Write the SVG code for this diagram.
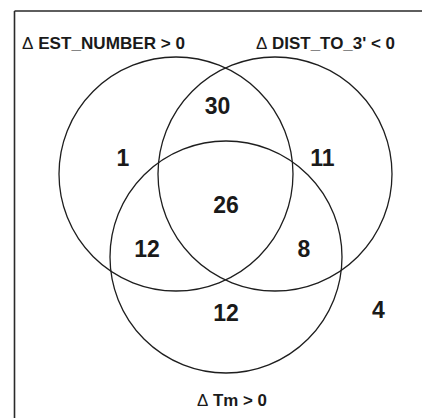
<svg xmlns="http://www.w3.org/2000/svg" width="422" height="418" viewBox="0 0 422 418">
<style>
.frame{stroke:#2a2a2a;stroke-width:1.6;fill:none}
.set{fill:none;stroke:#1e1e1e;stroke-width:1.3}
.lbl{font-family:"Liberation Sans",Arial,sans-serif;font-weight:bold;font-size:17px;fill:#1a1a1a}
.num{font-family:"Liberation Sans",Arial,sans-serif;font-weight:bold;font-size:23px;fill:#1a1a1a;text-anchor:middle}
.d{font-weight:normal}
</style>
<rect width="422" height="418" fill="#ffffff"/>
<g id="frame">
<path class="frame" d="M14.5 11 H422 M14.5 11 V418"/>
</g>
<g id="set-est">
<circle class="set" cx="176" cy="174" r="117"/>
<text class="lbl" x="22" y="49" textLength="163" lengthAdjust="spacingAndGlyphs"><tspan class="d">Δ</tspan> EST_NUMBER &gt; 0</text>
</g>
<g id="set-dist">
<circle class="set" cx="275" cy="174" r="117"/>
<text class="lbl" x="256" y="49" textLength="139" lengthAdjust="spacingAndGlyphs"><tspan class="d">Δ</tspan> DIST_TO_3' &lt; 0</text>
</g>
<g id="set-tm">
<circle class="set" cx="226" cy="257" r="116"/>
<text class="lbl" x="197" y="406" textLength="70" lengthAdjust="spacingAndGlyphs"><tspan class="d">Δ</tspan> Tm &gt; 0</text>
</g>
<g id="counts">
<text class="num" x="217.5" y="114">30</text>
<text class="num" x="123" y="166">1</text>
<text class="num" x="322.5" y="166">11</text>
<text class="num" x="226" y="213">26</text>
<text class="num" x="147" y="257">12</text>
<text class="num" x="304" y="257">8</text>
<text class="num" x="226" y="321">12</text>
<text class="num" x="378.5" y="318">4</text>
</g>
</svg>
